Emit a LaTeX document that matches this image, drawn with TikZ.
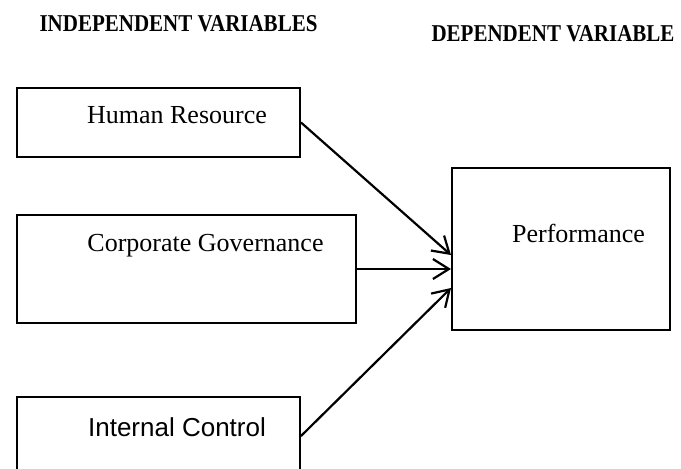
\documentclass[tikz,border=0pt]{standalone}
\usepackage{fontspec}
\setmainfont{Liberation Serif}
\newfontfamily\arialf{Liberation Sans}
\usetikzlibrary{arrows.meta}
\begin{document}
\begin{tikzpicture}[x=1pt,y=-1pt,
  box/.style={draw, line width=2pt, inner sep=0pt},
  lbl/.style={inner sep=0pt, font=\fontsize{26}{30}\selectfont},
  head/.style={inner sep=0pt, font=\fontsize{21}{25}\selectfont\bfseries},
  conn/.style={line width=2.2pt, -{Straight Barb[length=16pt,width=20pt]}}]
\useasboundingbox (0,0) rectangle (681,469);
\fill[white] (0,0) rectangle (681,469);
% headings
\node[head] (hind) at (178.5,23.5) {\scalebox{1}[1.15]{INDEPENDENT VARIABLES}};
\node[head] (hdep) at (553,33.5) {\scalebox{1}[1.15]{DEPENDENT VARIABLE}};
% boxes
\node[box, minimum width=283pt, minimum height=69pt] (hr) at (158.5,122.5) {};
\node[box, minimum width=339pt, minimum height=108pt] (cg) at (186.5,269) {};
\node[box, minimum width=283pt, minimum height=78pt] (ic) at (158.5,436) {};
\node[box, minimum width=218pt, minimum height=162pt] (perf) at (561,249) {};
% texts
\node[lbl] (thr) at (177,115) {Human Resource};
\node[lbl] (tcg) at (205.5,246) {Corporate Governance};
\node[lbl, font=\fontsize{26}{30}\selectfont\arialf] (tic) at (177,427) {Internal Control};
\node[lbl] (tperf) at (578.5,233) {Performance};
% connectors
\draw[conn] (hr.east) -- ([yshift=-6pt]perf.west);
\draw[conn] (cg.east) -- ([yshift=-20pt]perf.west);
\draw[conn] (ic.east) -- ([yshift=-39pt]perf.west);
\end{tikzpicture}
\end{document}
